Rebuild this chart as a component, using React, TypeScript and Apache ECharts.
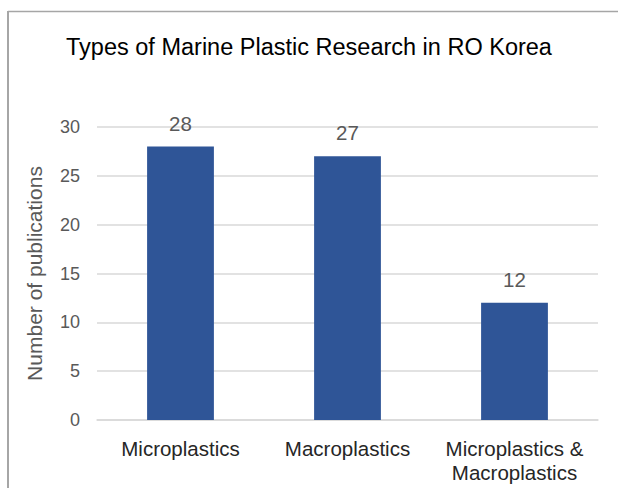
import React, { useEffect, useRef } from "react";
import * as echarts from "echarts";

const categories = ["Microplastics", "Macroplastics", "Microplastics &\nMacroplastics"];
const publications = [28, 27, 12];
const titleText = "Types of Marine Plastic Research in RO Korea";
const yAxisName = "Number of publications";

export default function App() {
  const ref = useRef<HTMLDivElement>(null);
  useEffect(() => {
    if (!ref.current) return;
    const chart = echarts.init(ref.current, null, { renderer: "svg" });
    chart.setOption({
      animation: false,
      backgroundColor: "#ffffff",
      title: {
        text: titleText,
        left: "center",
        top: 30,
        textStyle: {
          fontFamily: "Liberation Sans",
          fontSize: 23.5,
          fontWeight: "normal",
          color: "#000000",
        },
      },
      graphic: [
        { type: "line", shape: { x1: 8, y1: 11.5, x2: 618, y2: 11.5 }, style: { stroke: "#A6A6A6", lineWidth: 1.5 } },
        { type: "line", shape: { x1: 8, y1: 11, x2: 8, y2: 488 }, style: { stroke: "#A6A6A6", lineWidth: 2 } },
      ],
      grid: { left: 97, right: 20, top: 127, bottom: 68 },
      xAxis: {
        type: "category",
        data: categories,
        axisLine: { lineStyle: { color: "#D9D9D9", width: 1.5 } },
        axisTick: { show: false },
        axisLabel: {
          color: "#262626",
          fontFamily: "Liberation Sans",
          fontSize: 20.5,
          margin: 16,
          lineHeight: 24,
          interval: 0,
        },
      },
      yAxis: {
        type: "value",
        min: 0,
        max: 30,
        interval: 5,
        name: yAxisName,
        nameLocation: "middle",
        nameGap: 52,
        nameTextStyle: {
          color: "#595959",
          fontFamily: "Liberation Sans",
          fontSize: 21,
        },
        axisLine: { show: false },
        axisTick: { show: false },
        splitLine: { lineStyle: { color: "#D9D9D9", width: 1.5 } },
        axisLabel: {
          color: "#595959",
          fontFamily: "Liberation Sans",
          fontSize: 18,
          margin: 17,
        },
      },
      series: [
        {
          type: "bar",
          data: publications,
          barWidth: "40%",
          itemStyle: { color: "#2F5597" },
          label: {
            show: true,
            position: "top",
            distance: 13,
            color: "#595959",
            fontFamily: "Liberation Sans",
            fontSize: 20.5,
          },
        },
      ],
    });
    return () => chart.dispose();
  }, []);
  return (
    <div
      ref={ref}
      style={{ position: "absolute", left: 0, top: 0, width: 618, height: 488 }}
    />
  );
}
